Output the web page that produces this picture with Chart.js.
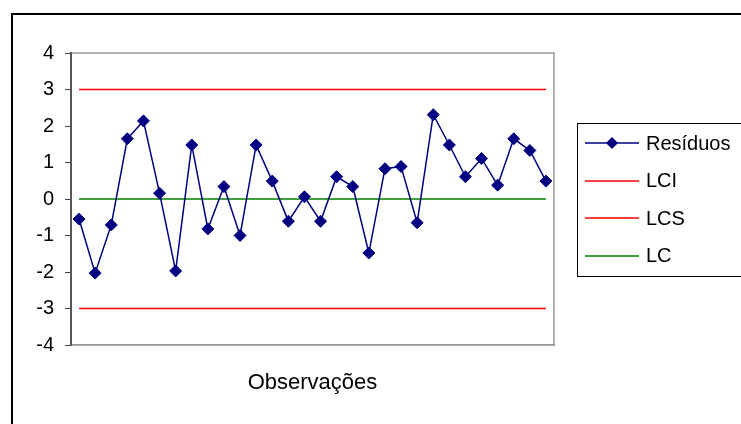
<!DOCTYPE html>
<html>
<head>
<meta charset="utf-8">
<script src="https://cdn.jsdelivr.net/npm/chart.js@4/dist/chart.umd.min.js"></script>
<style>
    body { margin: 0; background: #fff; }
    #wrap { position: relative; width: 741px; height: 424px; overflow: hidden; }
</style>
</head>
<body>
<div id="wrap"><canvas id="controlChart" width="741" height="424"></canvas></div>
<script>
// observations 1..30
const observacoes = ['1','2','3','4','5','6','7','8','9','10','11','12','13','14','15','16','17','18','19','20','21','22','23','24','25','26','27','28','29','30'];
const residuos = [-0.55, -2.03, -0.71, 1.65, 2.14, 0.16, -1.97, 1.48, -0.82, 0.34,
                  -1.0, 1.48, 0.49, -0.61, 0.06, -0.61, 0.61, 0.34, -1.48, 0.83,
                  0.89, -0.65, 2.31, 1.48, 0.61, 1.11, 0.38, 1.65, 1.33, 0.49];
const lci = observacoes.map(() => -3);
const lcs = observacoes.map(() => 3);
const lc = observacoes.map(() => 0);
const yTicks = [-4, -3, -2, -1, 0, 1, 2, 3, 4];

const FONT = '"Liberation Sans", Arial, sans-serif';

// outer frame + plot area border
const framePlugin = {
    id: 'frame',
    beforeDraw(chart) {
        const ctx = chart.ctx;
        const a = chart.chartArea;
        ctx.save();
        ctx.strokeStyle = '#000';
        ctx.lineWidth = 2;
        ctx.strokeRect(12, 14, 900, 600);
        ctx.strokeStyle = '#999';
        ctx.lineWidth = 1.5;
        ctx.strokeRect(a.left, a.top, a.right - a.left, a.bottom - a.top);
        ctx.restore();
    }
};

// Excel style legend box
const legendPlugin = {
    id: 'xlLegend',
    afterDraw(chart) {
        const ctx = chart.ctx;
        ctx.save();
        ctx.fillStyle = '#fff';
        ctx.fillRect(577, 123, 200, 154);
        ctx.strokeStyle = '#000';
        ctx.lineWidth = 1;
        ctx.strokeRect(577.5, 123.5, 200, 153);
        ctx.font = '20px ' + FONT;
        ctx.textBaseline = 'middle';
        chart.data.datasets.forEach((ds, i) => {
            const y = 143 + i * 37.6;
            ctx.strokeStyle = ds.borderColor;
            ctx.lineWidth = ds.borderWidth;
            ctx.beginPath();
            ctx.moveTo(585, Math.round(y));
            ctx.lineTo(639, Math.round(y));
            ctx.stroke();
            if (ds.pointRadius) {
                ctx.fillStyle = ds.pointBackgroundColor;
                ctx.beginPath();
                ctx.moveTo(612, y - 6);
                ctx.lineTo(618, y);
                ctx.lineTo(612, y + 6);
                ctx.lineTo(606, y);
                ctx.closePath();
                ctx.fill();
            }
            ctx.fillStyle = '#000';
            ctx.fillText(ds.label, 646, y + 1);
        });
        ctx.restore();
    }
};

new Chart(document.getElementById('controlChart'), {
    type: 'line',
    data: {
        labels: observacoes,
        datasets: [
            {
                label: 'Resíduos',
                data: residuos,
                borderColor: '#000080',
                borderWidth: 1.5,
                pointStyle: 'rectRot',
                pointRadius: 6,
                pointBackgroundColor: '#000080',
                pointBorderColor: '#000080',
                pointBorderWidth: 1,
                tension: 0,
                order: 0
            },
            { label: 'LCI', data: lci, borderColor: '#ff0000', borderWidth: 1.5, pointRadius: 0, order: 1 },
            { label: 'LCS', data: lcs, borderColor: '#ff0000', borderWidth: 1.5, pointRadius: 0, order: 2 },
            { label: 'LC', data: lc, borderColor: '#008000', borderWidth: 1.5, pointRadius: 0, order: 3 }
        ]
    },
    options: {
        responsive: false,
        animation: false,
        layout: { padding: { top: 53, right: 187, left: 0, bottom: 0 } },
        plugins: {
            legend: { display: false },
            tooltip: { enabled: false }
        },
        scales: {
            x: {
                type: 'category',
                offset: true,
                grid: { display: false },
                border: { display: true, color: '#999', width: 1.5 },
                ticks: { display: false },
                title: {
                    display: true,
                    text: 'Observações',
                    color: '#000',
                    font: { family: FONT, size: 22 },
                    padding: { top: 0, bottom: 28 }
                },
                afterFit: s => { s.height = 79; }
            },
            y: {
                min: -4,
                max: 4,
                afterBuildTicks: s => { s.ticks = yTicks.map(v => ({ value: v })); },
                grid: { drawOnChartArea: false, drawTicks: true, tickLength: 6, color: '#444' },
                border: { display: true, color: '#555', width: 2 },
                ticks: {
                    color: '#000',
                    padding: 11,
                    font: { family: FONT, size: 20 }
                },
                afterFit: s => { s.width = 71; }
            }
        }
    },
    plugins: [framePlugin, legendPlugin]
});
</script>
</body>
</html>
